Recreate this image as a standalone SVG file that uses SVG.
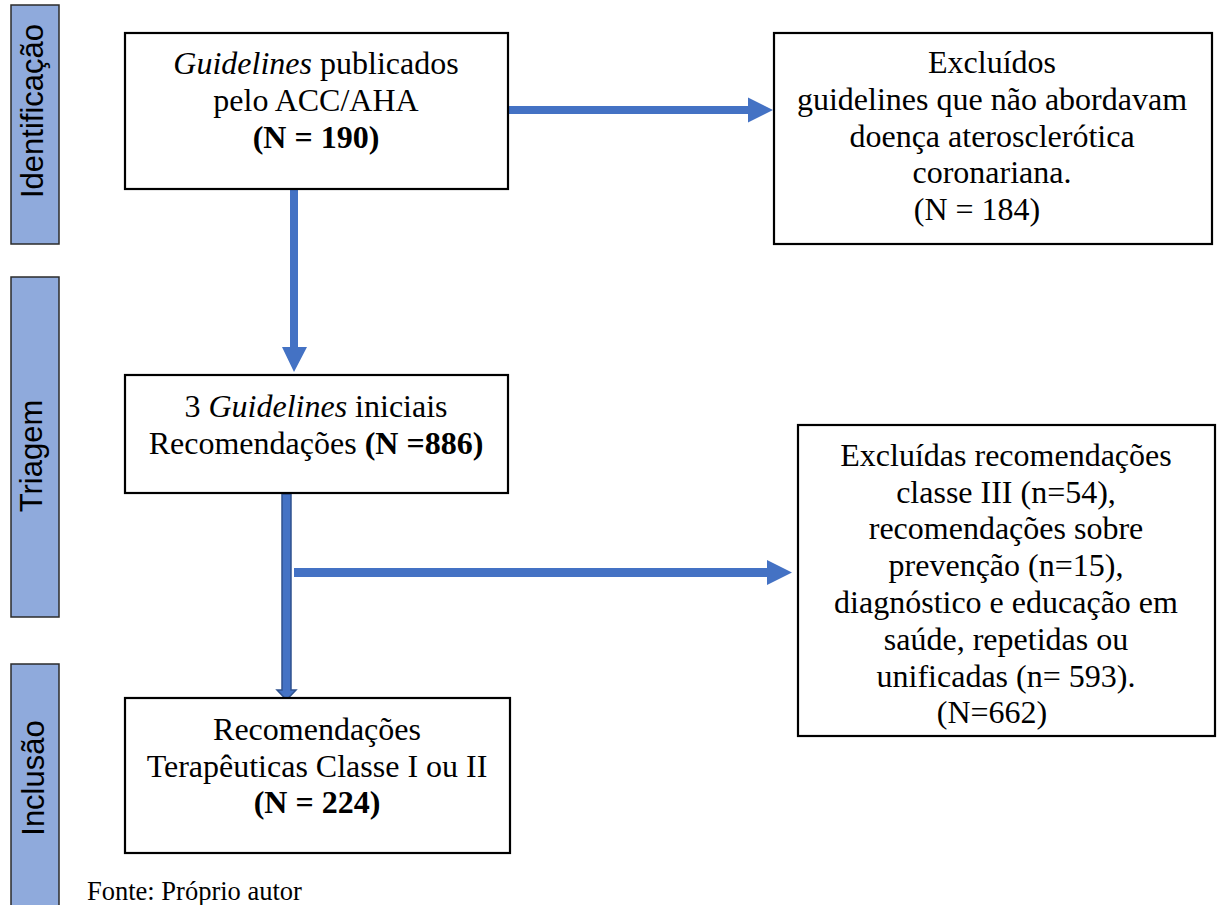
<svg xmlns="http://www.w3.org/2000/svg" width="1222" height="905" viewBox="0 0 1222 905">
<style>
.bar{fill:#8faadc;stroke:#2b2b2b;stroke-width:1.5}
.box{fill:#fff;stroke:#000;stroke-width:2.2}
.lbl{font-family:"Liberation Sans",Arial,sans-serif;font-size:31px;fill:#000;text-anchor:middle}
.t{font-family:"Liberation Serif","Times New Roman",serif;font-size:32px;fill:#000;text-anchor:middle}
.b{font-weight:bold}
.i{font-style:italic}
.arr{fill:#4472c4}
.arr2{fill:#4472c4;stroke:#2f528f;stroke-width:1.5}
</style>
<rect width="1222" height="905" fill="#fff"/>
<g id="stage-identificacao">
<rect class="bar" x="11" y="5" width="48" height="239"/>
<text class="lbl" transform="translate(43,111) rotate(-90)">Identificação</text>
</g>
<g id="stage-triagem">
<rect class="bar" x="11" y="277" width="48" height="340"/>
<text class="lbl" transform="translate(42,456) rotate(-90)">Triagem</text>
</g>
<g id="stage-inclusao">
<rect class="bar" x="11" y="664" width="48" height="245"/>
<text class="lbl" transform="translate(44,778) rotate(-90)">Inclusão</text>
</g>
<g id="connectors">
<polygon class="arr" points="508,106 748,106 748,97.5 773,110 748,122.5 748,114 508,114"/>
<polygon class="arr" points="290,189 298,189 298,347 307,347 294,372 282,347 290,347"/>
<polygon class="arr2" points="282,494 291,494 291,690 296,690 286.5,700 277,690 282,690"/>
<polygon class="arr" points="294,568 767,568 767,560 792,572.5 767,585 767,577 294,577"/>
</g>
<g id="node-guidelines">
<rect class="box" x="125" y="33" width="383" height="156"/>
<text class="t" x="316" y="74"><tspan class="i">Guidelines</tspan> publicados</text>
<text class="t" x="316" y="111">pelo ACC/AHA</text>
<text class="t b" x="316" y="148">(N = 190)</text>
</g>
<g id="node-excluidos">
<rect class="box" x="774" y="33" width="438" height="211"/>
<text class="t" x="992" y="73">Excluídos</text>
<text class="t" x="992" y="110">guidelines que não abordavam</text>
<text class="t" x="992" y="147">doença aterosclerótica</text>
<text class="t" x="992" y="183">coronariana.</text>
<text class="t" x="977" y="220">(N = 184)</text>
</g>
<g id="node-iniciais">
<rect class="box" x="125" y="375" width="383" height="118"/>
<text class="t" x="316" y="417">3 <tspan class="i">Guidelines</tspan> iniciais</text>
<text class="t" x="316" y="454">Recomendações <tspan class="b">(N =886)</tspan></text>
</g>
<g id="node-excluidas">
<rect class="box" x="798" y="425" width="417" height="311"/>
<text class="t" x="1006" y="466">Excluídas recomendações</text>
<text class="t" x="1006" y="503">classe III (n=54),</text>
<text class="t" x="1006" y="539">recomendações sobre</text>
<text class="t" x="1006" y="576">prevenção (n=15),</text>
<text class="t" x="1006" y="613">diagnóstico e educação em</text>
<text class="t" x="1006" y="650">saúde, repetidas ou</text>
<text class="t" x="1006" y="687">unificadas (n= 593).</text>
<text class="t" x="992" y="723">(N=662)</text>
</g>
<g id="node-inclusao">
<rect class="box" x="125" y="698" width="385" height="155"/>
<text class="t" x="317" y="740">Recomendações</text>
<text class="t" x="317" y="777">Terapêuticas Classe I ou II</text>
<text class="t b" x="317" y="813">(N = 224)</text>
</g>
<text x="87" y="900" style="font-family:'Liberation Serif','Times New Roman',serif;font-size:26.5px;fill:#000">Fonte: Próprio autor</text>
</svg>
